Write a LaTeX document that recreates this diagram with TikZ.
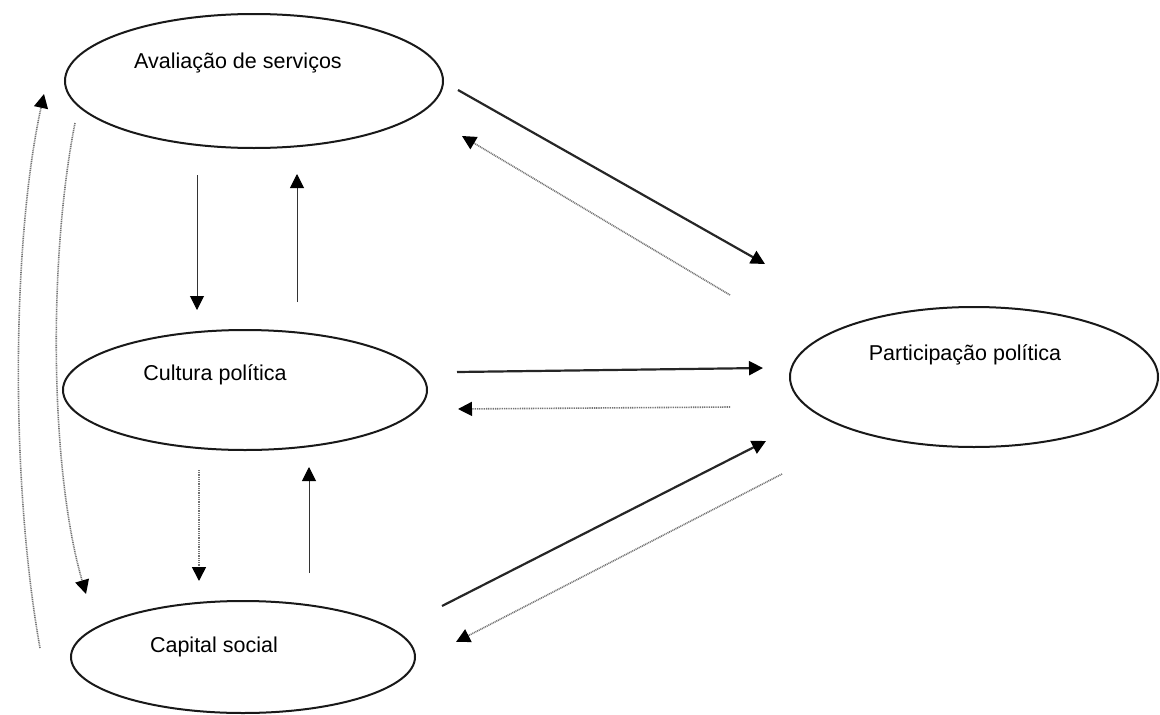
\documentclass[tikz,border=0pt]{standalone}
\usepackage{fontspec}
\setmainfont{Liberation Sans}
\usetikzlibrary{shapes.geometric,arrows.meta}
\begin{document}
\begin{tikzpicture}[x=1pt,y=-1pt,
  oval/.style={draw=black!90,line width=2pt,ellipse,inner sep=0pt},
  lbl/.style={font=\fontsize{21.5}{25}\selectfont,inner sep=0pt},
  tip/.style={-{Triangle[width=14pt,length=14pt,black]}},
  strong/.style={tip,line width=2.2pt,black!85},
  thin/.style={tip,line width=1pt,black!80},
  dots/.style={tip,line width=1.6pt,black!55,dash pattern=on 1pt off 0.8pt}]
\useasboundingbox (0,0) rectangle (1160,715);
% ellipses
\node[oval,minimum width=378pt,minimum height=134pt] (av) at (254,81) {};
\node[oval,minimum width=364pt,minimum height=120pt] (cp) at (245,390) {};
\node[oval,minimum width=344pt,minimum height=112pt] (cs) at (243,657) {};
\node[oval,minimum width=368pt,minimum height=140pt] (pp) at (974,377) {};
% labels
\node[lbl] (tav) at (238,63) {Avaliação de serviços};
\node[lbl] (tcp) at (215,375) {Cultura política};
\node[lbl] (tcs) at (214,647) {Capital social};
\node[lbl] (tpp) at (965,355) {Participação política};
% coordinates
\coordinate (a1) at (458,90);   \coordinate (a2) at (765,264);
\coordinate (b1) at (730,295);  \coordinate (b2) at (462,136);
\coordinate (c1) at (457,372);  \coordinate (c2) at (763,368);
\coordinate (d1) at (730,407);  \coordinate (d2) at (458,409);
\coordinate (e1) at (442,606);  \coordinate (e2) at (766,441);
\coordinate (f1) at (782,474);  \coordinate (f2) at (456,642);
\coordinate (g1) at (197,175);  \coordinate (g2) at (197,310);
\coordinate (h1) at (297,302);  \coordinate (h2) at (297,174);
\coordinate (i1) at (199,470);  \coordinate (i2) at (199,581);
\coordinate (j1) at (309,573);  \coordinate (j2) at (309,467);
\coordinate (k1) at (40,648);   \coordinate (k2) at (44,94);
\coordinate (l1) at (75,123);   \coordinate (l2) at (86,594);
% connectors
\draw[strong] (a1) -- (a2);
\draw[dots] (b1) -- (b2);
\draw[strong] (c1) -- (c2);
\draw[dots] (d1) -- (d2);
\draw[strong] (e1) -- (e2);
\draw[dots] (f1) -- (f2);
\draw[thin] (g1) -- (g2);
\draw[thin] (h1) -- (h2);
\draw[dots] (i1) -- (i2);
\draw[thin] (j1) -- (j2);
\draw[dots] (k1) .. controls (10,480) and (12,240) .. (k2);
\draw[dots] (l1) .. controls (48,260) and (50,470) .. (l2);
\end{tikzpicture}
\end{document}
